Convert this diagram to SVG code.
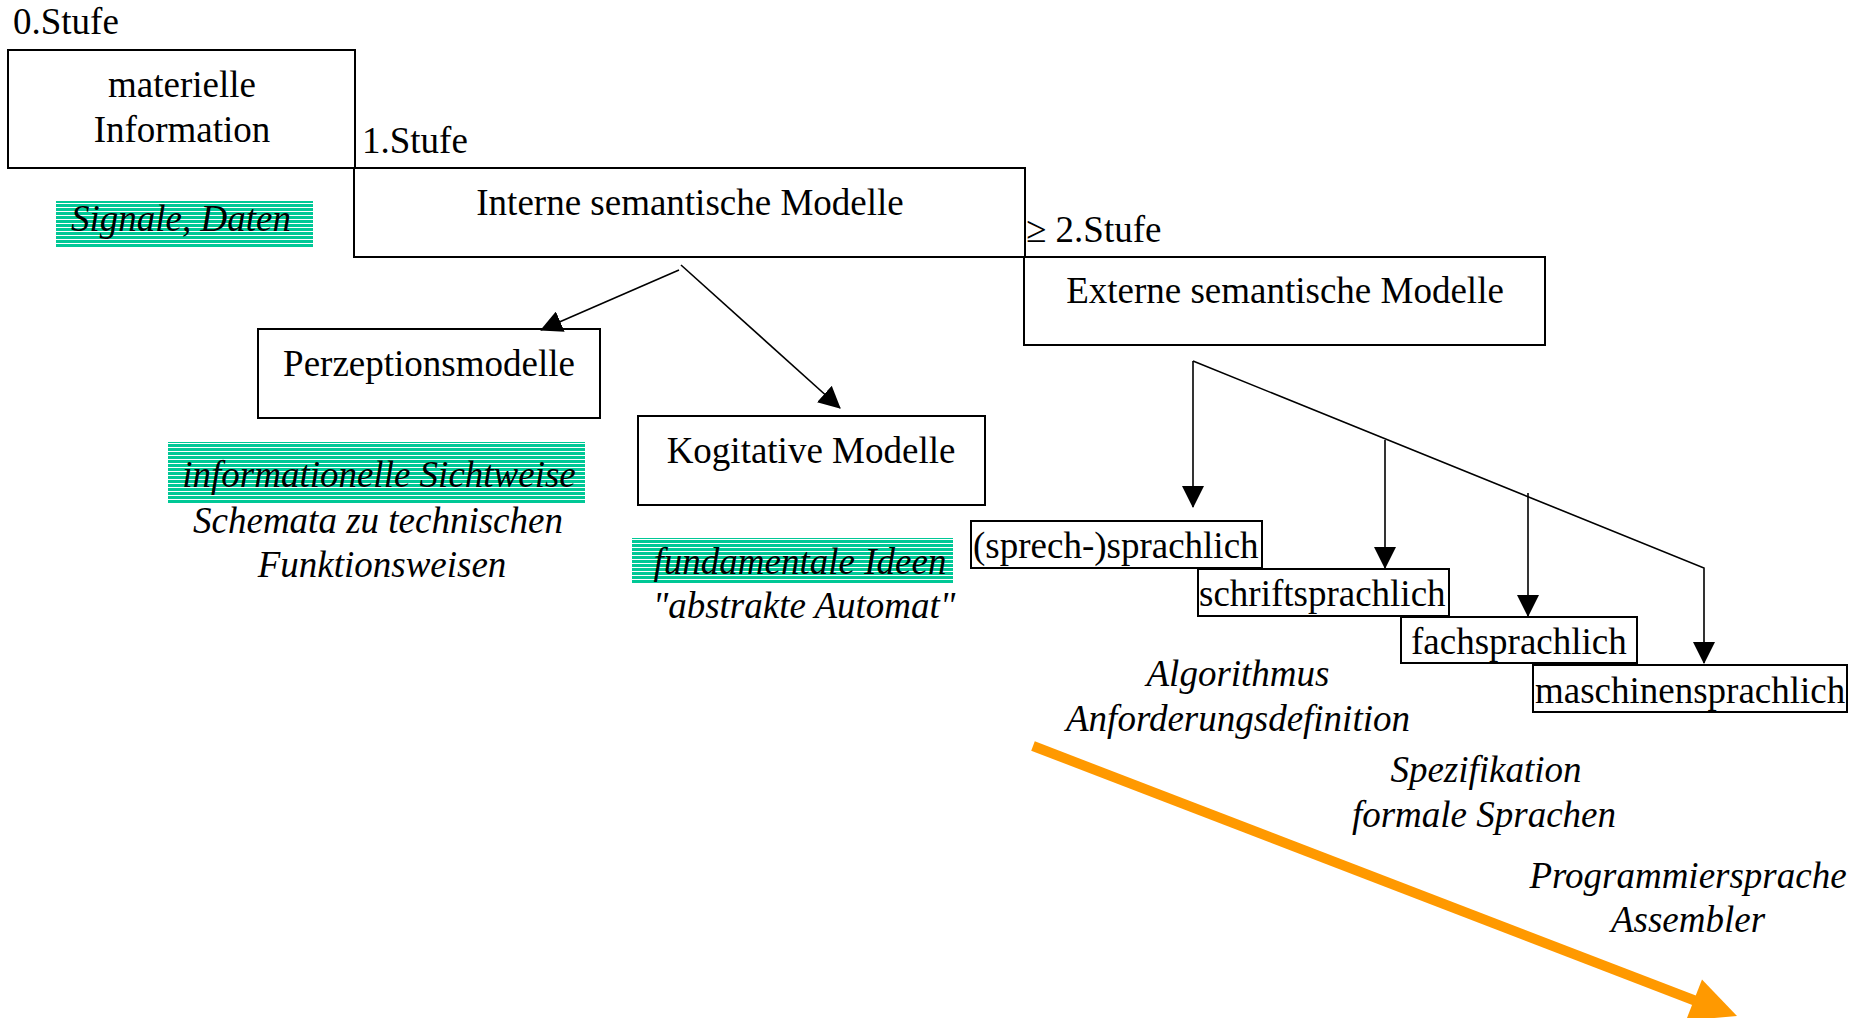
<svg xmlns="http://www.w3.org/2000/svg" width="1855" height="1018" viewBox="0 0 1855 1018">
<defs>
<style>
.t{font-family:"Liberation Serif","Times New Roman",serif;font-size:37px;fill:#000}
.i{font-style:italic}
.m{text-anchor:middle}
.box{fill:none;stroke:#000;stroke-width:2}
.sbox{fill:#fff;stroke:#000;stroke-width:2}
.con{fill:none;stroke:#000;stroke-width:1.6}
</style>
<pattern id="stripes" patternUnits="userSpaceOnUse" width="8" height="4">
<rect width="8" height="4" fill="#00C896"/>
<rect y="3" width="8" height="1" fill="#ffffff"/>
</pattern>
<marker id="ah" markerUnits="userSpaceOnUse" markerWidth="22" markerHeight="22" viewBox="0 0 22 22" refX="21" refY="11" orient="auto">
<path d="M0,0 L22,11 L0,22 z" fill="#000"/>
</marker>
</defs>
<rect width="1855" height="1018" fill="#fff"/>

<g id="stufe-labels">
<text class="t" x="13" y="34">0.Stufe</text>
<text class="t" x="362" y="153">1.Stufe</text>
<text class="t" x="1026" y="242">≥ 2.Stufe</text>
</g>

<g id="materielle">
<rect class="box" x="8" y="50" width="347" height="118"/>
<text class="t m" x="182" y="97">materielle</text>
<text class="t m" x="182" y="142">Information</text>
</g>

<g id="signale">
<rect x="56" y="201" width="257" height="47" fill="url(#stripes)"/>
<text class="t i m" x="181" y="231">Signale, Daten</text>
</g>

<g id="interne">
<rect class="box" x="354" y="168" width="671" height="89"/>
<text class="t m" x="690" y="215">Interne semantische Modelle</text>
</g>

<g id="externe">
<rect class="box" x="1024" y="257" width="521" height="88"/>
<text class="t m" x="1285" y="303">Externe semantische Modelle</text>
</g>

<g id="perzeption">
<rect class="box" x="258" y="329" width="342" height="89"/>
<text class="t m" x="429" y="376">Perzeptionsmodelle</text>
</g>

<g id="kogitative">
<rect class="box" x="638" y="416" width="347" height="89"/>
<text class="t m" x="811" y="463">Kogitative Modelle</text>
</g>

<g id="informationelle">
<rect x="168" y="442" width="417" height="61" fill="url(#stripes)"/>
<text class="t i m" x="379" y="487">informationelle Sichtweise</text>
<text class="t i m" x="378" y="533">Schemata zu technischen</text>
<text class="t i m" x="382" y="577">Funktionsweisen</text>
</g>

<g id="fundamentale">
<rect x="632" y="538" width="321" height="46" fill="url(#stripes)"/>
<text class="t i m" x="800" y="574">fundamentale Ideen</text>
<text class="t i m" x="804" y="618">"abstrakte Automat"</text>
</g>

<g id="sprech">
<rect class="sbox" x="971" y="521" width="291" height="47"/>
<text class="t" x="973" y="558">(sprech-)sprachlich</text>
</g>
<g id="schrift">
<rect class="sbox" x="1198" y="569" width="251" height="47"/>
<text class="t" x="1199" y="606">schriftsprachlich</text>
</g>
<g id="fach">
<rect class="sbox" x="1401" y="617" width="236" height="46"/>
<text class="t" x="1411" y="654">fachsprachlich</text>
</g>
<g id="maschinen">
<rect class="sbox" x="1533" y="665" width="314" height="47"/>
<text class="t" x="1535" y="703">maschinensprachlich</text>
</g>

<g id="beschreibungen">
<text class="t i m" x="1238" y="686">Algorithmus</text>
<text class="t i m" x="1238" y="731">Anforderungsdefinition</text>
<text class="t i m" x="1486" y="782">Spezifikation</text>
<text class="t i m" x="1484" y="827">formale Sprachen</text>
<text class="t i m" x="1688" y="888">Programmiersprache</text>
<text class="t i m" x="1688" y="932">Assembler</text>
</g>

<g id="connectors">
<line class="con" x1="679" y1="270" x2="541" y2="330" marker-end="url(#ah)"/>
<line class="con" x1="681" y1="265" x2="840" y2="408" marker-end="url(#ah)"/>
<line class="con" x1="1193" y1="361" x2="1193" y2="507" marker-end="url(#ah)"/>
<polyline class="con" points="1193,361 1704,568 1704,663" marker-end="url(#ah)"/>
<line class="con" x1="1385" y1="440" x2="1385" y2="568" marker-end="url(#ah)"/>
<line class="con" x1="1528" y1="493" x2="1528" y2="616" marker-end="url(#ah)"/>
<line x1="1033" y1="746" x2="1696" y2="1001" stroke="#FF9900" stroke-width="10"/>
<polygon points="1686,1020.5 1702,979.5 1737,1016" fill="#FF9900"/>
</g>
</svg>
